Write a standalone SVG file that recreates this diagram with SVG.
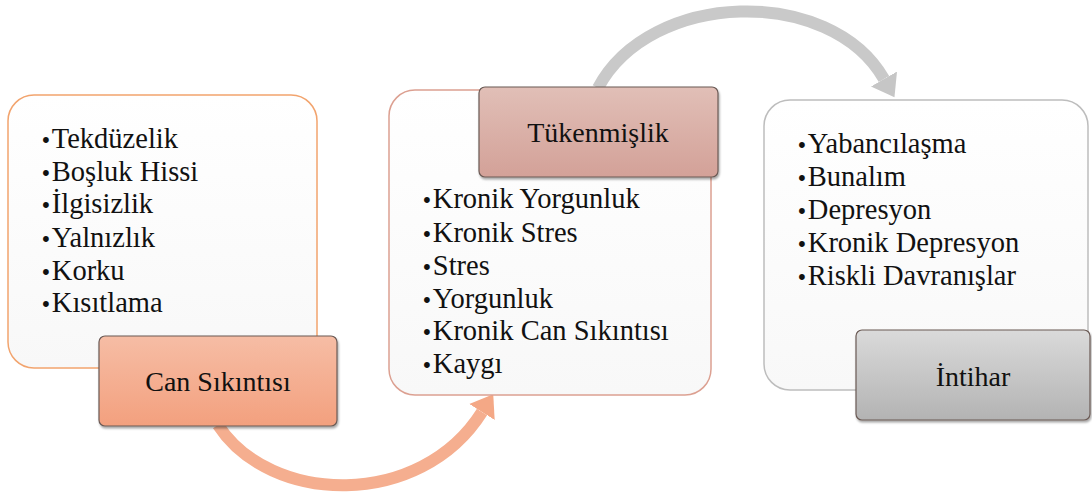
<svg xmlns="http://www.w3.org/2000/svg" width="1092" height="498" viewBox="0 0 1092 498">
<style>
  text { font-family: 'Liberation Serif', 'Times New Roman', serif; font-size: 28.5px; fill: #111; }
  .lbl { text-anchor: middle; font-size: 28px; }
  .b { font-family: 'DejaVu Serif', serif; font-size: 20px; }
  .box { fill: url(#gWhite); stroke-width: 1.5; }
  .tag { stroke: #6b5a55; stroke-width: 1.2; filter: url(#shadow); }
  .arc { fill: none; stroke-width: 12; }
</style>
<defs>
  <linearGradient id="gWhite" x1="0" y1="0" x2="0" y2="1">
    <stop offset="0" stop-color="#ffffff"/>
    <stop offset="1" stop-color="#f8f8f8"/>
  </linearGradient>
  <linearGradient id="gOrange" x1="0" y1="0" x2="0" y2="1">
    <stop offset="0" stop-color="#f6bda5"/>
    <stop offset="1" stop-color="#f3a07e"/>
  </linearGradient>
  <linearGradient id="gRose" x1="0" y1="0" x2="0" y2="1">
    <stop offset="0" stop-color="#e1bfb7"/>
    <stop offset="1" stop-color="#d3a198"/>
  </linearGradient>
  <linearGradient id="gGrey" x1="0" y1="0" x2="0" y2="1">
    <stop offset="0" stop-color="#dadada"/>
    <stop offset="1" stop-color="#b3b3b3"/>
  </linearGradient>
  <filter id="shadow" x="-10%" y="-10%" width="120%" height="130%">
    <feDropShadow dx="1" dy="2" stdDeviation="1.2" flood-color="#000" flood-opacity="0.35"/>
  </filter>
  <marker id="headOrange" markerUnits="userSpaceOnUse" markerWidth="30" markerHeight="34" viewBox="0 -17 30 34" refX="0" refY="0" orient="auto">
    <path d="M0,-15 L21,0 L0,15 Z" fill="#f4a886"/>
  </marker>
  <marker id="headGrey" markerUnits="userSpaceOnUse" markerWidth="30" markerHeight="34" viewBox="0 -17 30 34" refX="0" refY="0" orient="auto">
    <path d="M0,-15 L21,0 L0,15 Z" fill="#c6c6c6"/>
  </marker>
</defs>

<g id="connectors">
  <path class="arc" d="M 218 425 C 270 505, 420 510, 482 412" stroke="#f5ae8f" marker-end="url(#headOrange)"/>
  <path class="arc" d="M 598 88 C 650 -10, 830 -15, 884 79" stroke="#c9c9c9" marker-end="url(#headGrey)"/>
</g>

<g id="node-can-sikintisi">
  <rect class="box" x="8" y="95" width="309" height="273" rx="26" stroke="#f2a46e"/>
  <text x="40" y="148"><tspan class="b">•</tspan>Tekdüzelik</text>
  <text x="40" y="181"><tspan class="b">•</tspan>Boşluk Hissi</text>
  <text x="40" y="213"><tspan class="b">•</tspan>İlgisizlik</text>
  <text x="40" y="247"><tspan class="b">•</tspan>Yalnızlık</text>
  <text x="40" y="280"><tspan class="b">•</tspan>Korku</text>
  <text x="40" y="312"><tspan class="b">•</tspan>Kısıtlama</text>
  <rect class="tag" x="99" y="336" width="238" height="90" rx="6" fill="url(#gOrange)"/>
  <text class="lbl" x="218" y="391">Can Sıkıntısı</text>
</g>

<g id="node-tukenmislik">
  <rect class="box" x="389" y="90" width="322" height="305" rx="26" stroke="#dca091"/>
  <text x="421" y="208"><tspan class="b">•</tspan>Kronik Yorgunluk</text>
  <text x="421" y="242"><tspan class="b">•</tspan>Kronik Stres</text>
  <text x="421" y="275"><tspan class="b">•</tspan>Stres</text>
  <text x="421" y="308"><tspan class="b">•</tspan>Yorgunluk</text>
  <text x="421" y="340"><tspan class="b">•</tspan>Kronik Can Sıkıntısı</text>
  <text x="421" y="373"><tspan class="b">•</tspan>Kaygı</text>
  <rect class="tag" x="479" y="87" width="239" height="90" rx="6" fill="url(#gRose)"/>
  <text class="lbl" x="598" y="142">Tükenmişlik</text>
</g>

<g id="node-intihar">
  <rect class="box" x="764" y="100" width="324" height="290" rx="26" stroke="#bdbdbd"/>
  <text x="796" y="153"><tspan class="b">•</tspan>Yabancılaşma</text>
  <text x="796" y="186"><tspan class="b">•</tspan>Bunalım</text>
  <text x="796" y="219"><tspan class="b">•</tspan>Depresyon</text>
  <text x="796" y="252"><tspan class="b">•</tspan>Kronik Depresyon</text>
  <text x="796" y="285"><tspan class="b">•</tspan>Riskli Davranışlar</text>
  <rect class="tag" x="856" y="330" width="234" height="90" rx="6" fill="url(#gGrey)"/>
  <text class="lbl" x="973" y="386">İntihar</text>
</g>
</svg>
